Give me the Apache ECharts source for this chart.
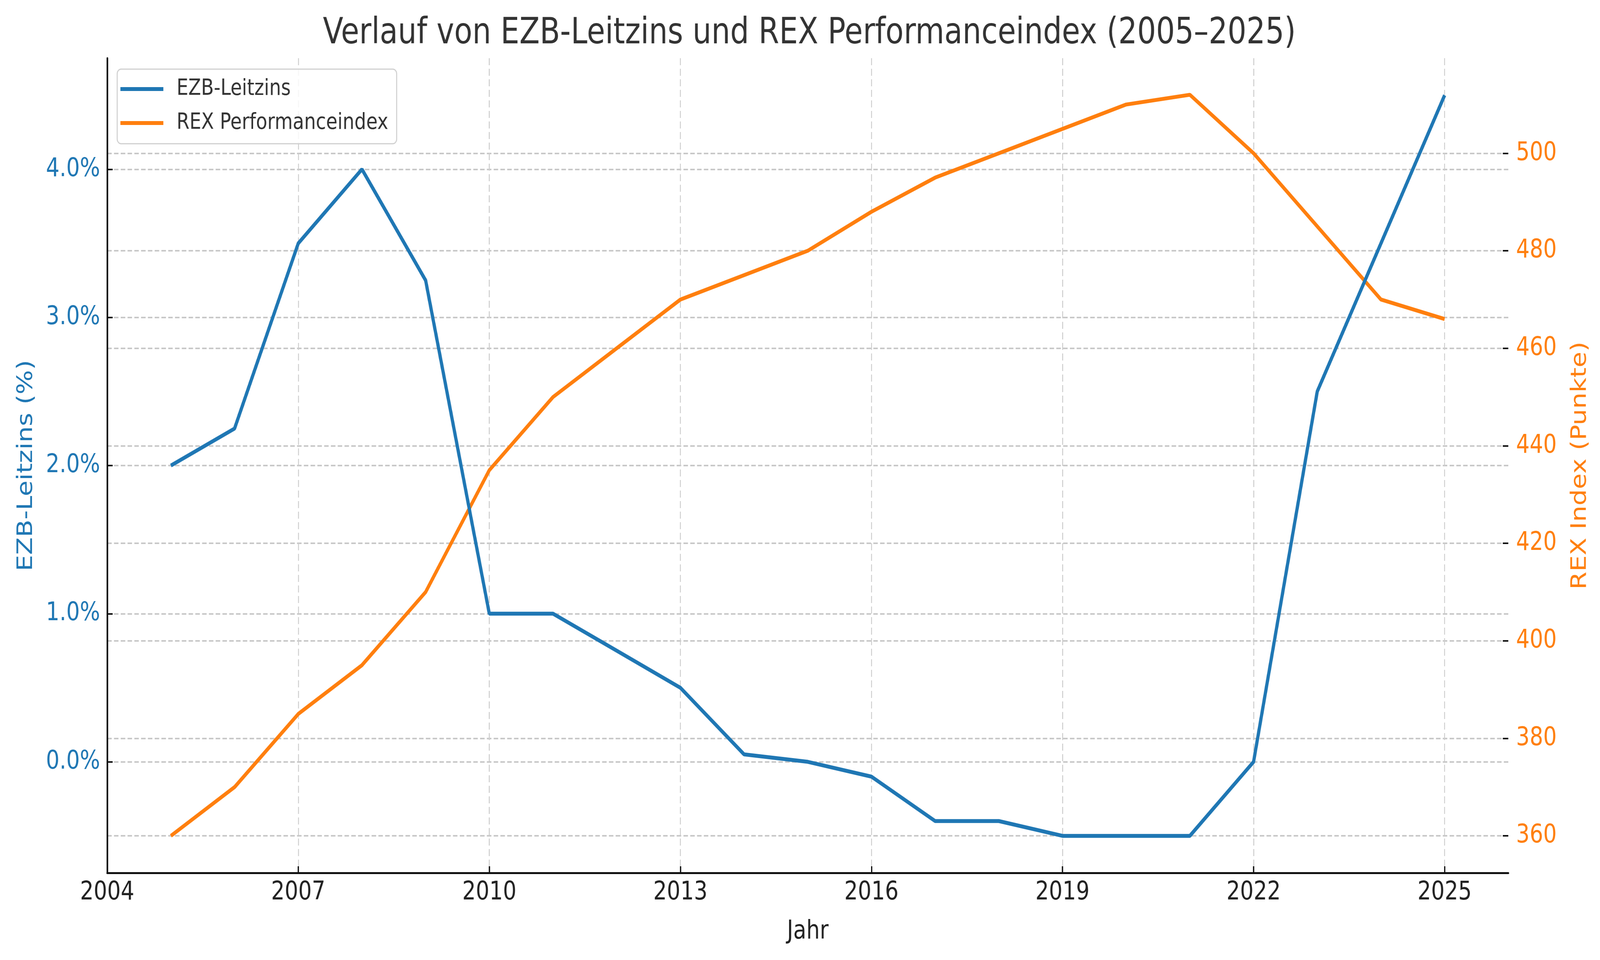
<!DOCTYPE html>
<html>
<head>
<meta charset="utf-8">
<script src="https://cdn.jsdelivr.net/npm/echarts@6/dist/echarts.min.js"></script>
<style>
html,body{margin:0;padding:0;background:#fff;overflow:hidden}
#c{width:4956px;height:2458px;transform-origin:0 0}
</style>
</head>
<body>
<div id="c"></div>
<script>
const years = [2005,2006,2007,2008,2009,2010,2011,2012,2013,2014,2015,2016,2017,2018,2019,2020,2021,2022,2023,2024,2025];
const ezbRate = [2.0,2.25,3.5,4.0,3.25,1.0,1.0,0.75,0.5,0.05,0.0,-0.1,-0.4,-0.4,-0.5,-0.5,-0.5,0.0,2.5,3.5,4.5];
const rexIndex = [360,370,385,395,410,435,450,460,470,475,480,488,495,500,505,510,512,500,485,470,466];
const xTicks = [2004,2007,2010,2013,2016,2019,2022,2025];
const leftTicks = [0,1,2,3,4];
const rightTicks = [360,380,400,420,440,460,480,500];

// The viewport may be narrower than the 4956px design; fit the chart to it.
const box = document.getElementById('c');
const vw = window.innerWidth || 4956, vh = window.innerHeight || 2458;
box.style.transform = 'scale(' + (vw / 4956) + ',' + (vh / 2458) + ')';

const FONT = 'DejaVu Sans';
const BLUE = '#1f77b4', ORANGE = '#ff7f0e';
const chart = echarts.init(box, null, {renderer:'canvas', width:4956, height:2458});
chart.setOption({
  animation:false,
  backgroundColor:'#fff',
  title:{text:'Verlauf von EZB-Leitzins und REX Performanceindex (2005–2025)', left:2502, top:36, textAlign:'center',
    textStyle:{fontFamily:FONT, fontSize:92, fontWeight:'normal', color:'#333'}},
  legend:{left:363, top:177, orient:'vertical', icon:'rect', itemWidth:133, itemHeight:10, itemGap:29,
    padding:[22,26,24,10], borderColor:'#d0d0d0', borderWidth:3, borderRadius:12, backgroundColor:'rgba(255,255,255,0.8)',
    textStyle:{fontFamily:FONT, fontSize:57.5, color:'#333', lineHeight:57, padding:[0,0,0,36]},
    data:['EZB-Leitzins','REX Performanceindex']},
  grid:{left:332, right:284, top:149, bottom:223},
  xAxis:{type:'value', min:2004, max:2026,
    name:'Jahr', nameLocation:'middle', nameGap:118, nameTextStyle:{fontFamily:FONT, fontSize:66, color:'#222'},
    axisLine:{show:true, onZero:false, lineStyle:{color:'#111', width:5}},
    axisTick:{show:true, inside:true, length:17, lineStyle:{color:'#111', width:4}, customValues:xTicks},
    axisLabel:{customValues:xTicks, margin:18, fontFamily:FONT, fontSize:66, color:'#222', formatter:v=>String(v)},
    splitLine:{show:true, lineStyle:{color:'#cfcfcf', width:3, type:[18,9]}}},
  yAxis:[
    {type:'value', min:-0.75, max:4.75, position:'left',
     name:'EZB-Leitzins (%)', nameLocation:'middle', nameRotate:90, nameGap:217,
     nameTextStyle:{fontFamily:FONT, fontSize:66, color:BLUE},
     axisLine:{show:true, onZero:false, lineStyle:{color:'#111', width:5}},
     axisTick:{show:true, inside:true, length:17, lineStyle:{color:'#111', width:4}, customValues:leftTicks},
     axisLabel:{customValues:leftTicks, margin:22, fontFamily:FONT, fontSize:66, color:BLUE, formatter:v=>v.toFixed(1)+'%'},
     splitLine:{show:true, lineStyle:{color:'#c8c8c8', width:4, type:[14,7]}}},
    {type:'value', min:352.4, max:519.5, position:'right',
     name:'REX Index (Punkte)', nameLocation:'middle', nameRotate:90, nameGap:190,
     nameTextStyle:{fontFamily:FONT, fontSize:66, color:ORANGE},
     axisLine:{show:false},
     axisTick:{show:true, inside:true, length:17, lineStyle:{color:'#111', width:4}, customValues:rightTicks},
     axisLabel:{customValues:rightTicks, margin:24, fontFamily:FONT, fontSize:66, color:ORANGE, formatter:v=>String(v)},
     splitLine:{show:true, lineStyle:{color:'#c8c8c8', width:4, type:[14,7]}}}
  ],
  series:[
    {name:'EZB-Leitzins', type:'line', yAxisIndex:0, showSymbol:false, symbol:'none',
     data:years.map((y,i)=>[y,ezbRate[i]]), lineStyle:{color:BLUE, width:10}, itemStyle:{color:BLUE}, z:3},
    {name:'REX Performanceindex', type:'line', yAxisIndex:1, showSymbol:false, symbol:'none',
     data:years.map((y,i)=>[y,rexIndex[i]]), lineStyle:{color:ORANGE, width:10}, itemStyle:{color:ORANGE}, z:2}
  ]
});
</script>
</body>
</html>
